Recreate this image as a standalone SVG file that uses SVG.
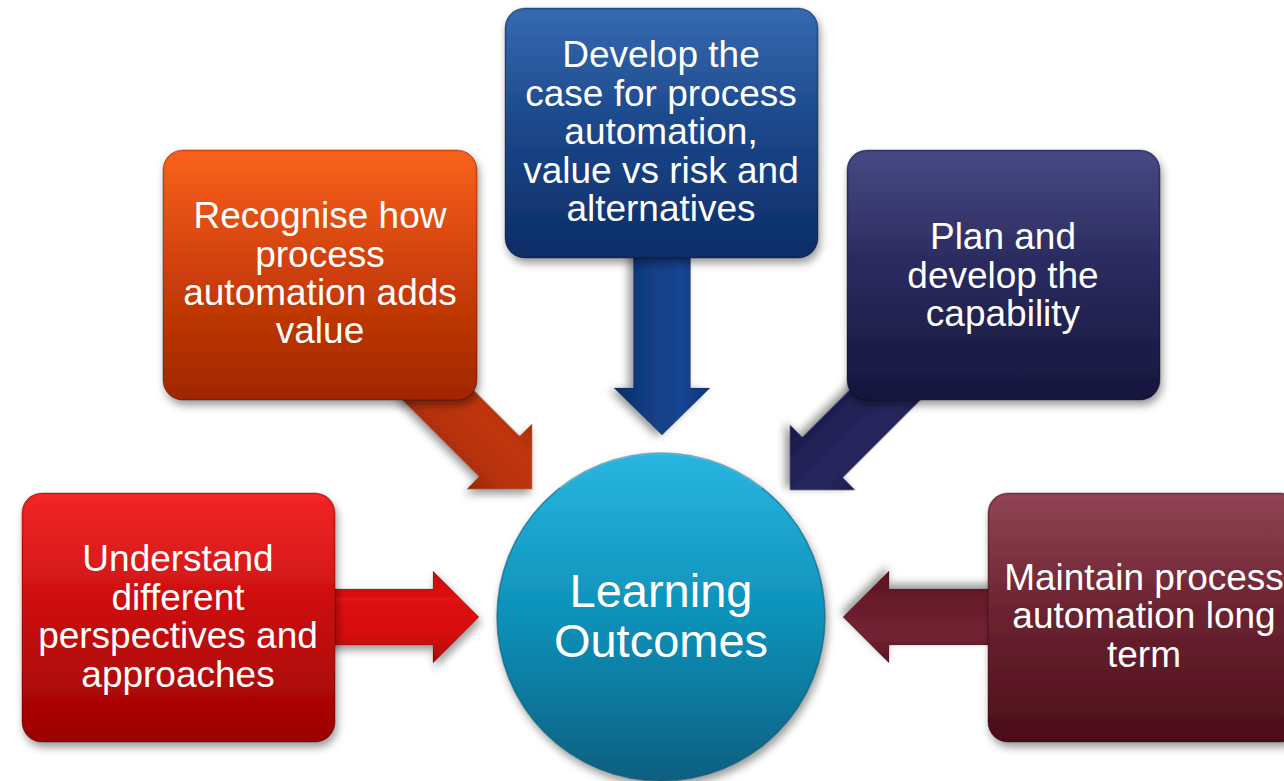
<svg xmlns="http://www.w3.org/2000/svg" width="1284" height="781" viewBox="0 0 1284 781">
<defs>
  <filter id="shadow" x="-20%" y="-20%" width="140%" height="140%">
    <feDropShadow dx="2" dy="5" stdDeviation="4" flood-color="#000" flood-opacity="0.4"/>
  </filter>
  <linearGradient id="gRed" x1="0" y1="0" x2="0" y2="1"><stop offset="0" stop-color="#f21a1a"/><stop offset="1" stop-color="#9c0202"/></linearGradient>
  <linearGradient id="gOrange" x1="0" y1="0" x2="0" y2="1"><stop offset="0" stop-color="#f95810"/><stop offset="1" stop-color="#a02600"/></linearGradient>
  <linearGradient id="gBlue" x1="0" y1="0" x2="0" y2="1"><stop offset="0" stop-color="#2a60ab"/><stop offset="1" stop-color="#0c2c66"/></linearGradient>
  <linearGradient id="gNavy" x1="0" y1="0" x2="0" y2="1"><stop offset="0" stop-color="#3c3d7c"/><stop offset="1" stop-color="#15163d"/></linearGradient>
  <linearGradient id="gMaroon" x1="0" y1="0" x2="0" y2="1"><stop offset="0" stop-color="#8a3848"/><stop offset="1" stop-color="#4a0d19"/></linearGradient>
  <linearGradient id="gCircle" x1="0" y1="0" x2="0" y2="1"><stop offset="0" stop-color="#29b6e0"/><stop offset="0.5" stop-color="#0d91b9"/><stop offset="1" stop-color="#0a5f80"/></linearGradient>
  <linearGradient id="aRed" x1="0" y1="0" x2="0" y2="1"><stop offset="0" stop-color="#c40707"/><stop offset="0.3" stop-color="#e01212"/><stop offset="0.7" stop-color="#d40d0d"/><stop offset="1" stop-color="#ac0404"/></linearGradient>
  <linearGradient id="aOrange" x1="0" y1="0" x2="0" y2="1"><stop offset="0" stop-color="#aa2c06"/><stop offset="0.3" stop-color="#c0360a"/><stop offset="0.7" stop-color="#b63108"/><stop offset="1" stop-color="#9c2604"/></linearGradient>
  <linearGradient id="aBlue" x1="0" y1="0" x2="0" y2="1"><stop offset="0" stop-color="#0e3674"/><stop offset="0.3" stop-color="#154592"/><stop offset="0.7" stop-color="#113c80"/><stop offset="1" stop-color="#0b2e66"/></linearGradient>
  <linearGradient id="aNavy" x1="0" y1="0" x2="0" y2="1"><stop offset="0" stop-color="#1a1b4b"/><stop offset="0.3" stop-color="#27285f"/><stop offset="0.7" stop-color="#202155"/><stop offset="1" stop-color="#171844"/></linearGradient>
  <linearGradient id="aMaroon" x1="0" y1="0" x2="0" y2="1"><stop offset="0" stop-color="#5c1523"/><stop offset="0.3" stop-color="#722332"/><stop offset="0.7" stop-color="#681c2b"/><stop offset="1" stop-color="#54111e"/></linearGradient>
  <linearGradient id="gloss" x1="0" y1="0" x2="0" y2="1"><stop offset="0" stop-color="#fff" stop-opacity="0.06"/><stop offset="1" stop-color="#fff" stop-opacity="0"/></linearGradient>
</defs>
<style>
  .box { stroke: #000; stroke-opacity: 0.35; stroke-width: 1; filter: url(#shadow); }
  .arrow { filter: url(#shadow); stroke: #000; stroke-opacity: 0.15; stroke-width: 1; }
  .lbl { font-family: "Liberation Sans", Arial, sans-serif; font-size: 37px; fill: #fff; text-anchor: middle; }
  .big { font-family: "Liberation Sans", Arial, sans-serif; font-size: 47px; fill: #fff; text-anchor: middle; }
</style>

<g id="connectors">
  <path class="arrow" fill="url(#aRed)" transform="translate(479,617)" d="M -160,-28 H -46 V -46 L 0,0 L -46,46 V 28 H -160 Z"/>
  <path class="arrow" fill="url(#aMaroon)" transform="translate(843,617) rotate(180)" d="M -160,-28 H -46 V -46 L 0,0 L -46,46 V 28 H -160 Z"/>
  <path class="arrow" fill="url(#aBlue)" transform="translate(662,435) rotate(90)" d="M -185,-28.5 H -47 V -48 L 0,0 L -47,48 V 28.5 H -185 Z"/>
  <path class="arrow" fill="url(#aOrange)" transform="translate(532,489) rotate(45)" d="M -160,-28.5 H -46 V -46 L 0,0 L -46,46 V 28.5 H -160 Z"/>
  <path class="arrow" fill="url(#aNavy)" transform="translate(790,490) rotate(135)" d="M -160,-28.5 H -46 V -46 L 0,0 L -46,46 V 28.5 H -160 Z"/>
</g>

<g id="node-understand">
  <rect class="box" x="22" y="493" width="313" height="249" rx="20" fill="url(#gRed)"/>
  <rect x="24" y="495" width="309" height="110" rx="18" fill="url(#gloss)"/>
  <text class="lbl" x="178" y="571">Understand</text>
  <text class="lbl" x="178" y="610">different</text>
  <text class="lbl" x="178" y="648">perspectives and</text>
  <text class="lbl" x="178" y="687">approaches</text>
</g>

<g id="node-recognise">
  <rect class="box" x="163" y="150" width="314" height="250" rx="20" fill="url(#gOrange)"/>
  <rect x="165" y="152" width="310" height="110" rx="18" fill="url(#gloss)"/>
  <text class="lbl" x="320" y="228">Recognise how</text>
  <text class="lbl" x="320" y="267">process</text>
  <text class="lbl" x="320" y="305">automation adds</text>
  <text class="lbl" x="320" y="343">value</text>
</g>

<g id="node-develop">
  <rect class="box" x="505" y="8" width="313" height="250" rx="20" fill="url(#gBlue)"/>
  <rect x="507" y="10" width="309" height="110" rx="18" fill="url(#gloss)"/>
  <text class="lbl" x="661" y="67">Develop the</text>
  <text class="lbl" x="661" y="105.5">case for process</text>
  <text class="lbl" x="661" y="144">automation,</text>
  <text class="lbl" x="661" y="182.5">value vs risk and</text>
  <text class="lbl" x="661" y="221">alternatives</text>
</g>

<g id="node-plan">
  <rect class="box" x="847" y="150" width="313" height="250" rx="20" fill="url(#gNavy)"/>
  <rect x="849" y="152" width="309" height="110" rx="18" fill="url(#gloss)"/>
  <text class="lbl" x="1003" y="249">Plan and</text>
  <text class="lbl" x="1003" y="287.5">develop the</text>
  <text class="lbl" x="1003" y="326">capability</text>
</g>

<g id="node-maintain">
  <rect class="box" x="988" y="493" width="313" height="249" rx="20" fill="url(#gMaroon)"/>
  <rect x="990" y="495" width="309" height="110" rx="18" fill="url(#gloss)"/>
  <text class="lbl" x="1144" y="590">Maintain process</text>
  <text class="lbl" x="1144" y="628">automation long</text>
  <text class="lbl" x="1144" y="667">term</text>
</g>

<g id="node-center">
  <circle cx="661" cy="617" r="164" fill="url(#gCircle)" stroke="#0a5672" stroke-opacity="0.6" stroke-width="1.5" filter="url(#shadow)"/>
  <path d="M 560,488 A 164 164 0 0 1 762,488" fill="none" stroke="#bfefff" stroke-opacity="0.35" stroke-width="2"/>
  <text class="big" x="661" y="607">Learning</text>
  <text class="big" x="661" y="657">Outcomes</text>
</g>
</svg>
